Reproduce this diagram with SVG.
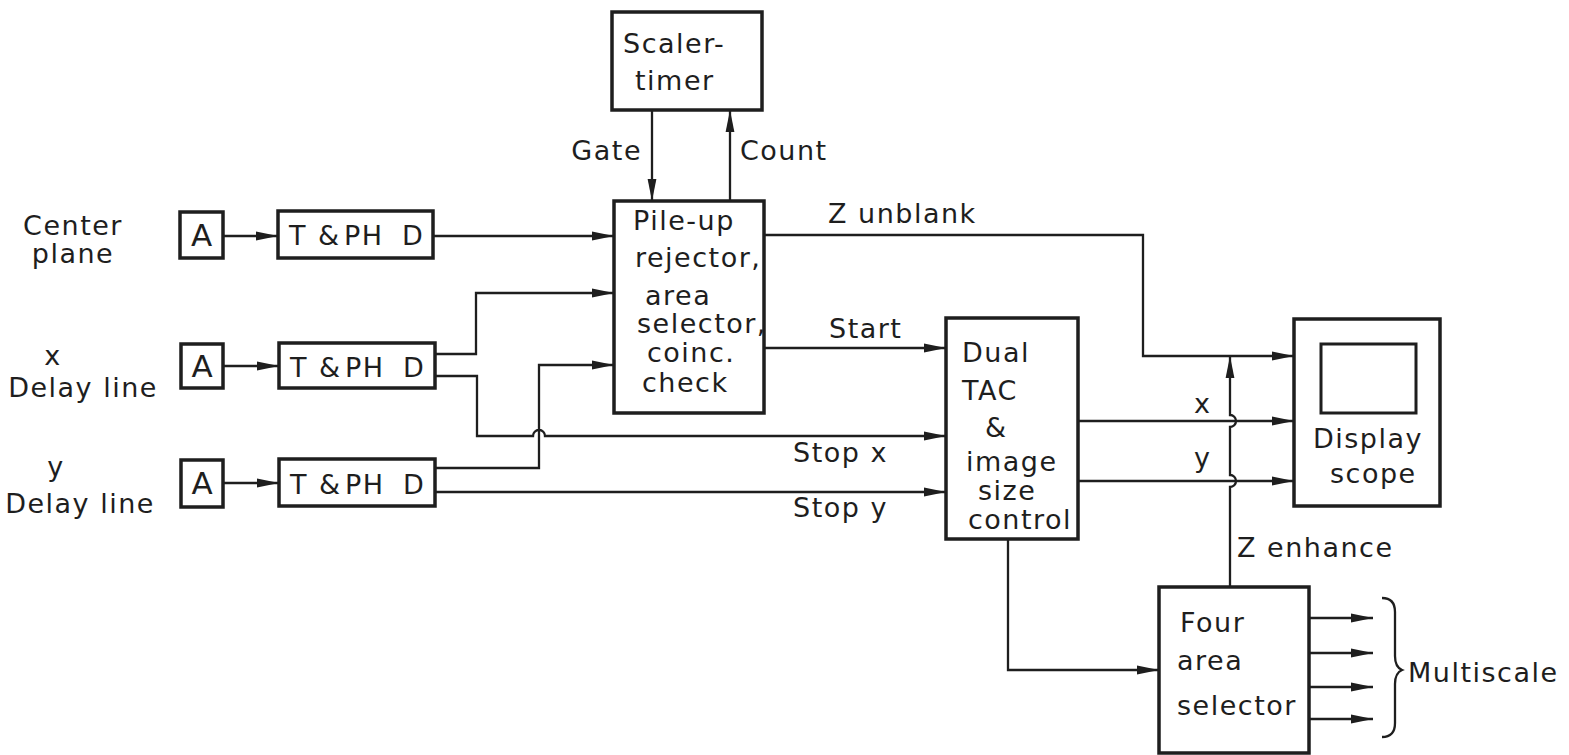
<svg xmlns="http://www.w3.org/2000/svg" width="1569" height="755" viewBox="0 0 1569 755">
<style>
text{font-family:"DejaVu Sans","Liberation Sans",sans-serif;font-size:27px;fill:#1e1e1e;letter-spacing:1.5px}
.box{fill:none;stroke:#1e1e1e;stroke-width:3.5}
.ln{fill:none;stroke:#1e1e1e;stroke-width:2.3}
.arr{marker-end:url(#ah)}
.big{font-size:31px;letter-spacing:0}
</style>
<defs>
<marker id="ah" viewBox="0 0 22 10" refX="22" refY="5" markerWidth="22" markerHeight="10" markerUnits="userSpaceOnUse" orient="auto">
<path d="M0,0.6 L22,5 L0,9.4 z" fill="#1e1e1e"/>
</marker>
</defs>
<rect width="1569" height="755" fill="#fff"/>

<g id="labels-left">
<text x="73" y="235" text-anchor="middle" letter-spacing="0.5">Center</text>
<text x="73" y="263" text-anchor="middle" letter-spacing="0.5">plane</text>
<text x="53" y="365" text-anchor="middle">x</text>
<text x="83" y="397" text-anchor="middle" letter-spacing="0.5">Delay line</text>
<text x="56" y="476" text-anchor="middle">y</text>
<text x="80" y="513" text-anchor="middle" letter-spacing="0.5">Delay line</text>
</g>

<g id="amp1"><rect class="box" x="180" y="212" width="43" height="46"/><text class="big" x="201.5" y="246" text-anchor="middle">A</text></g>
<g id="amp2"><rect class="box" x="181" y="344" width="42" height="44"/><text class="big" x="202" y="377" text-anchor="middle">A</text></g>
<g id="amp3"><rect class="box" x="181" y="460" width="42" height="47"/><text class="big" x="202" y="494" text-anchor="middle">A</text></g>

<g id="tphd1"><rect class="box" x="278" y="211" width="155" height="47"/><text x="289" y="245" letter-spacing="0">T<tspan x="318">&amp;</tspan><tspan x="344">PH</tspan><tspan x="402">D</tspan></text></g>
<g id="tphd2"><rect class="box" x="279" y="343" width="156" height="45"/><text x="290" y="377" letter-spacing="0">T<tspan x="319">&amp;</tspan><tspan x="345">PH</tspan><tspan x="403">D</tspan></text></g>
<g id="tphd3"><rect class="box" x="279" y="459" width="156" height="47"/><text x="290" y="494" letter-spacing="0">T<tspan x="319">&amp;</tspan><tspan x="345">PH</tspan><tspan x="403">D</tspan></text></g>

<g id="scaler"><rect class="box" x="612" y="12" width="150" height="98"/>
<text x="623" y="53" letter-spacing="2.5">Scaler-</text>
<text x="635" y="90" letter-spacing="2.5">timer</text></g>

<g id="pileup"><rect class="box" x="614" y="201" width="150" height="212"/>
<text x="633" y="230" letter-spacing="2">Pile-up</text>
<text x="635" y="267" letter-spacing="1.5">rejector,</text>
<text x="645" y="305" letter-spacing="2.5">area</text>
<text x="637" y="333" letter-spacing="1">selector,</text>
<text x="647" y="362" letter-spacing="2">coinc.</text>
<text x="642" y="392" letter-spacing="2">check</text></g>

<g id="tac"><rect class="box" x="946" y="318" width="132" height="221"/>
<text x="962" y="362" letter-spacing="2">Dual</text>
<text x="962" y="400" letter-spacing="2">TAC</text>
<text x="985" y="437">&amp;</text>
<text x="966" y="471" letter-spacing="2.5">image</text>
<text x="978" y="500" letter-spacing="2.5">size</text>
<text x="968" y="529" letter-spacing="0.5">control</text></g>

<g id="scope"><rect class="box" x="1294" y="319" width="146" height="187"/>
<rect x="1321" y="344" width="95" height="69" fill="none" stroke="#1e1e1e" stroke-width="3"/>
<text x="1313" y="448" letter-spacing="2">Display</text>
<text x="1330" y="483" letter-spacing="2">scope</text></g>

<g id="fourarea"><rect class="box" x="1159" y="587" width="150" height="166"/>
<text x="1180" y="632" letter-spacing="3">Four</text>
<text x="1177" y="670" letter-spacing="4">area</text>
<text x="1177" y="715" letter-spacing="2">selector</text></g>

<g id="connectors">
<path class="ln arr" d="M223,236 H278"/>
<path class="ln arr" d="M223,366 H279"/>
<path class="ln arr" d="M223,483 H279"/>
<path class="ln arr" d="M433,236 H614"/>
<path class="ln arr" d="M435,354 H476 V293 H614"/>
<path class="ln arr" d="M435,376 H477 V436 H533 A6,6 0 0 1 545,436 H946"/>
<path class="ln arr" d="M435,468 H539 V365 H614"/>
<path class="ln arr" d="M435,492 H946"/>
<path class="ln arr" d="M652,110 V201"/>
<path class="ln arr" d="M730,201 V110"/>
<path class="ln arr" d="M764,235 H1143 V356 H1294"/>
<path class="ln arr" d="M764,348 H946"/>
<path class="ln arr" d="M1078,421 H1294"/>
<path class="ln arr" d="M1078,481 H1294"/>
<path class="ln arr" d="M1008,539 V670 H1159"/>
<path class="ln arr" d="M1230,587 V487 A6,6 0 0 0 1230,475 V427 A6,6 0 0 0 1230,415 V356"/>
<path class="ln arr" d="M1309,618 H1373"/>
<path class="ln arr" d="M1309,653 H1373"/>
<path class="ln arr" d="M1309,687 H1373"/>
<path class="ln arr" d="M1309,719 H1373"/>
<path class="ln" d="M1382,598 Q1395,598 1395,612 V656 Q1395,667 1402,670 Q1395,673 1395,684 V723 Q1395,737 1382,737"/>
</g>

<g id="connector-labels">
<text x="642" y="160" text-anchor="end" letter-spacing="2">Gate</text>
<text x="740" y="160" letter-spacing="2">Count</text>
<text x="828" y="223" letter-spacing="2">Z unblank</text>
<text x="829" y="338" letter-spacing="1">Start</text>
<text x="793" y="462" letter-spacing="2">Stop x</text>
<text x="793" y="517" letter-spacing="2">Stop y</text>
<text x="1194" y="413">x</text>
<text x="1194" y="467">y</text>
<text x="1237" y="557" letter-spacing="1.5">Z enhance</text>
<text x="1408" y="682" letter-spacing="1.2">Multiscale</text>
</g>
</svg>
